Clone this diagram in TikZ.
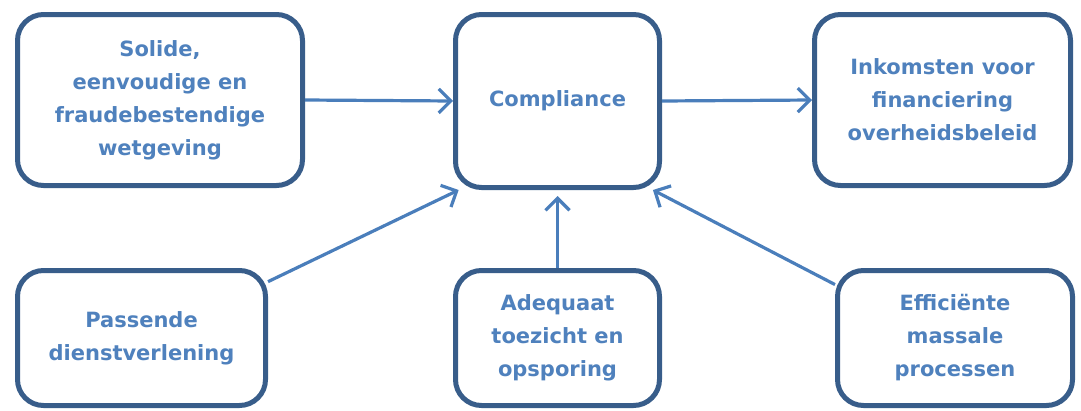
\documentclass[tikz,border=0pt]{standalone}
\usepackage{fontspec}
\setmainfont{DejaVu Sans}
\usetikzlibrary{arrows.meta}
\definecolor{boxline}{RGB}{56,93,138}
\definecolor{boxtext}{RGB}{79,129,189}
\definecolor{arrowblue}{RGB}{74,126,187}
\tikzset{
  box/.style={draw=boxline, line width=5pt, rounded corners=26pt, fill=white,
    align=center, text=boxtext, font=\fontsize{21}{33}\selectfont\bfseries,
    inner sep=0pt},
  flow/.style={draw=arrowblue, line width=3.2pt,
    -{Straight Barb[length=12pt,width=24pt,line width=3.2pt]}}
}
\begin{document}
\begin{tikzpicture}[x=1pt,y=-1pt]
            \useasboundingbox (0,0) rectangle (1081,410);

            \node[box, minimum width=285pt, minimum height=171pt] (wetgeving) at (160,100)
                {Solide,\\eenvoudige en\\fraudebestendige\\wetgeving};
            \node[box, minimum width=204pt, minimum height=173pt] (compliance) at (557.5,101)
                {Compliance};
            \node[box, minimum width=256pt, minimum height=171pt] (inkomsten) at (942.5,100)
                {Inkomsten voor\\financiering\\overheidsbeleid};

            \node[box, minimum width=248pt, minimum height=135pt] (dienst) at (141.5,338)
                {Passende\\dienstverlening};
            \node[box, minimum width=204pt, minimum height=135pt] (toezicht) at (557.5,338)
                {Adequaat\\toezicht en\\opsporing};
            \node[box, minimum width=235pt, minimum height=135pt] (processen) at (955,338)
                {Efficiënte\\massale\\processen};

            \draw[flow] (wetgeving.east) -- (compliance.west);
            \draw[flow] (compliance.east) -- (inkomsten.west);
            \draw[flow] (dienst.24) -- (compliance.222);
            \draw[flow, shorten >=6pt] (toezicht.north) -- (compliance.south);
            \draw[flow] (processen.156) -- (compliance.317);
        \end{tikzpicture}
\end{document}
